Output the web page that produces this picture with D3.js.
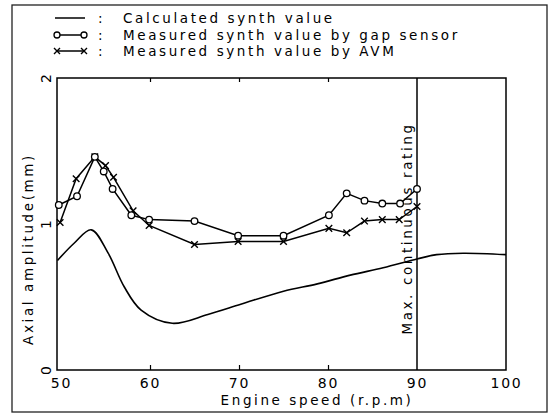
<!DOCTYPE html>
<html><head><meta charset="utf-8">
<script src="https://cdn.jsdelivr.net/npm/d3@7"></script>
<style>
html,body{margin:0;padding:0;background:#fff;}
svg text{font-family:"DejaVu Sans",sans-serif;fill:#000;}
</style></head>
<body><svg id="c" width="550" height="416"></svg>
<script>
// Data
const calcX = [49.6, 51.5, 53.4, 55.3, 57.1, 59.0, 62.5, 66.5, 70.2, 75.0, 78.8, 82.5, 86.2, 90.0, 92.2, 95.2, 100];
const calcY = [0.75, 0.87, 0.96, 0.80, 0.57, 0.41, 0.32, 0.38, 0.45, 0.54, 0.59, 0.65, 0.70, 0.76, 0.79, 0.80, 0.79];
const gapX = [49.75, 51.8, 53.8, 54.8, 55.8, 57.9, 59.9, 65.0, 69.9, 75.0, 80.1, 82.1, 84.1, 86.1, 88.1, 90.0];
const gapY = [1.13, 1.19, 1.46, 1.36, 1.24, 1.06, 1.03, 1.02, 0.92, 0.92, 1.06, 1.21, 1.16, 1.14, 1.14, 1.24];
const avmX = [49.9, 51.7, 53.8, 55.0, 55.9, 58.1, 59.9, 65.0, 69.9, 75.0, 80.1, 82.1, 84.1, 86.1, 88.0, 90.0];
const avmY = [1.01, 1.31, 1.46, 1.40, 1.32, 1.09, 0.99, 0.86, 0.88, 0.88, 0.97, 0.94, 1.02, 1.03, 1.03, 1.12];
const xTicks = [50, 60, 70, 80, 90, 100];
const yTicks = [0, 1, 2];
const legendLabels = ["Calculated synth value", "Measured synth value by gap sensor", "Measured synth value by AVM"];
const xTitle = "Engine speed (r.p.m)";
const yTitle = "Axial amplitude(mm)";
const markerText = "Max. continuous rating";
const markerX = 90;

const svg = d3.select("#c");
const L = 57, R = 506, T = 78, B = 370;
const x = d3.scaleLinear().domain([49.55, 100]).range([L, R]);
const y = d3.scaleLinear().domain([0, 2]).range([B, T]);

function applyFont(sel){ sel.style("font-size","13.5px").style("letter-spacing","2.6px"); return sel; }

// outer border
svg.append("rect").attr("x",12).attr("y",5).attr("width",535).attr("height",407)
  .attr("fill","none").attr("stroke","#222").attr("stroke-width",1.3);

// plot frame
svg.append("rect").attr("x",L).attr("y",T).attr("width",R-L).attr("height",B-T)
  .attr("fill","none").attr("stroke","#000").attr("stroke-width",1.5);

// ticks via axes (inside)
const gxb = svg.append("g").attr("transform",`translate(0,${B})`)
  .call(d3.axisTop(x).tickValues([60,70,80]).tickSize(5).tickFormat(""));
const gxt = svg.append("g").attr("transform",`translate(0,${T})`)
  .call(d3.axisBottom(x).tickValues([60,70,80]).tickSize(4).tickFormat(""));
[gxb,gxt].forEach(g=>{g.select(".domain").remove(); g.selectAll("line").attr("stroke","#000").attr("stroke-width",1.2);});

// x tick labels
const xl = svg.append("g").attr("transform",`translate(0,${B})`)
  .call(d3.axisBottom(x).tickValues(xTicks).tickSize(0).tickPadding(8).tickFormat(d3.format("d")));
xl.select(".domain").remove();
xl.selectAll("text").style("font-size","14px").style("letter-spacing","1.8px").attr("font-family","DejaVu Sans");

// y tick labels, rotated
const yl = svg.append("g").attr("transform",`translate(${L},0)`)
  .call(d3.axisLeft(y).tickValues(yTicks).tickSize(0).tickFormat(d3.format("d")));
yl.select(".domain").remove();
yl.selectAll("text").attr("x",null).attr("dy",null).attr("text-anchor","middle")
  .attr("transform","translate(-6,0) rotate(-90)").attr("dy","0")
  .style("font-size","14px");

// vertical marker line
svg.append("line").attr("x1",x(markerX)).attr("x2",x(markerX)).attr("y1",T).attr("y2",B)
  .attr("stroke","#000").attr("stroke-width",1.5);
svg.append("text").attr("transform",`translate(${x(markerX)-5},${(117+340)/2}) rotate(-90)`)
  .attr("text-anchor","middle").text(markerText).call(applyFont);

// axis titles
svg.append("text").attr("x",317).attr("y",405).attr("text-anchor","middle").text(xTitle).call(applyFont);
svg.append("text").attr("transform",`translate(33,249) rotate(-90)`).attr("text-anchor","middle").text(yTitle).call(applyFont);

// lines
const line = d3.line().x(d=>x(d[0])).y(d=>y(d[1]));
const calc = calcX.map((v,i)=>[v,calcY[i]]);
const gap = gapX.map((v,i)=>[v,gapY[i]]);
const avm = avmX.map((v,i)=>[v,avmY[i]]);
svg.append("path").datum(calc).attr("d",line.curve(d3.curveCatmullRom.alpha(0.5)))
  .attr("fill","none").attr("stroke","#000").attr("stroke-width",1.6);
const line2 = d3.line().x(d=>x(d[0])).y(d=>y(d[1]));
svg.append("path").datum(avm).attr("d",line2).attr("fill","none").attr("stroke","#000").attr("stroke-width",1.5);
svg.append("path").datum(gap).attr("d",line2).attr("fill","none").attr("stroke","#000").attr("stroke-width",1.5);

function cross(g,cx,cy,s){
  g.append("path").attr("d",`M${cx-s},${cy-s}L${cx+s},${cy+s}M${cx-s},${cy+s}L${cx+s},${cy-s}`)
   .attr("stroke","#000").attr("stroke-width",1.4);
}
const mk = svg.append("g");
avm.forEach(d=>cross(mk,x(d[0]),y(d[1]),3.3));
mk.selectAll("circle.g").data(gap).join("circle").attr("class","g")
  .attr("cx",d=>x(d[0])).attr("cy",d=>y(d[1])).attr("r",3.3)
  .attr("fill","#fff").attr("stroke","#000").attr("stroke-width",1.3);

// legend
const ly = [18, 35, 51];
const lg = svg.append("g");
lg.append("line").attr("x1",55).attr("x2",85).attr("y1",ly[0]).attr("y2",ly[0]).attr("stroke","#000").attr("stroke-width",1.5);
lg.append("line").attr("x1",57).attr("x2",84).attr("y1",ly[1]).attr("y2",ly[1]).attr("stroke","#000").attr("stroke-width",1.5);
[57,84].forEach(cx=>lg.append("circle").attr("cx",cx).attr("cy",ly[1]).attr("r",3).attr("fill","#fff").attr("stroke","#000").attr("stroke-width",1.3));
lg.append("line").attr("x1",57).attr("x2",84).attr("y1",ly[2]).attr("y2",ly[2]).attr("stroke","#000").attr("stroke-width",1.5);
[57,84].forEach(cx=>cross(lg,cx,ly[2],3));
legendLabels.forEach((t,i)=>{
  lg.append("text").attr("x",98).attr("y",ly[i]+5).text(":").call(applyFont);
  lg.append("text").attr("x",123).attr("y",ly[i]+5).text(t).call(applyFont);
});
</script></body></html>
